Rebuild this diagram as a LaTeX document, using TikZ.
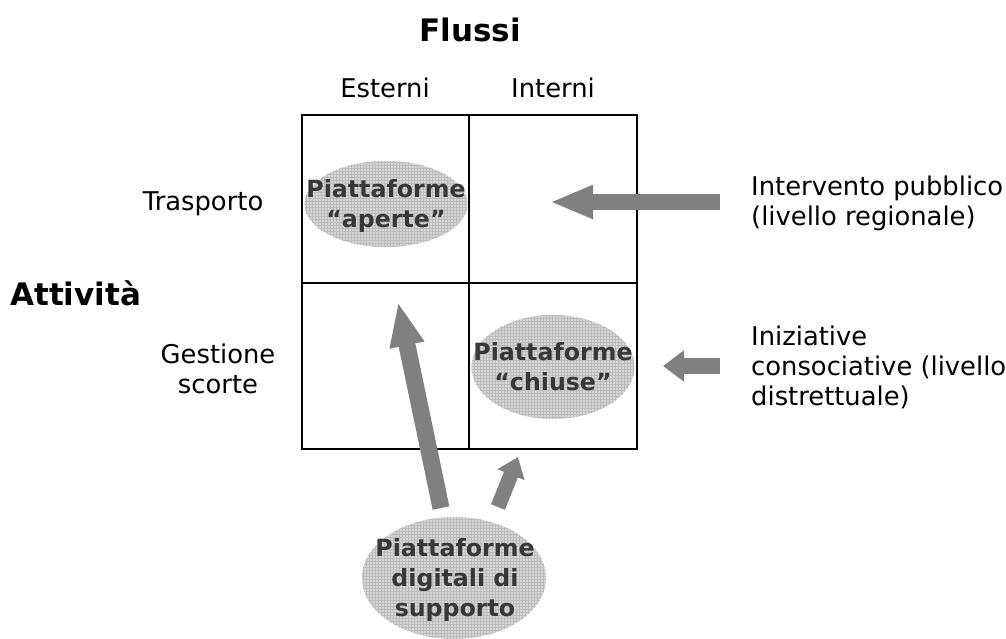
\documentclass[tikz,border=0pt]{standalone}
\usepackage{fontspec}
\setmainfont{DejaVu Sans}
\usetikzlibrary{arrows.meta,shapes.geometric,patterns}
\definecolor{arrowgray}{RGB}{128,128,128}
\definecolor{ellfill}{RGB}{214,214,214}
\definecolor{ellgrid}{RGB}{188,188,188}
\definecolor{elltext}{RGB}{55,55,55}
\begin{document}
\begin{tikzpicture}[x=1pt,y=-1pt,
  lbl/.style={font=\fontsize{25.8}{30}\selectfont, inner sep=0pt},
  ttl/.style={font=\fontsize{31}{36}\selectfont\bfseries, inner sep=0pt},
  plat/.style={inner sep=0pt, text=elltext,
    font=\fontsize{23.7}{30}\selectfont\bfseries, align=center},
  ellbg/.style={fill=ellfill},
  ellpat/.style={pattern=grid, pattern color=ellgrid},
  blk/.style={draw=arrowgray, line cap=butt},
  gridline/.style={line width=1.8pt, black}]
\useasboundingbox (0,0) rectangle (1006,639);
\fill[white] (0,0) rectangle (1006,639);

% grid
\draw[gridline] (302,115) rectangle (637,449);
\draw[gridline] (469,115) -- (469,449);
\draw[gridline] (302,283) -- (637,283);

% titles and labels
\node[ttl] (flussi) at (470,30) {Flussi};
\node[ttl, anchor=west] (attivita) at (10,293) {Attività};
\node[lbl] (esterni) at (385,88) {Esterni};
\node[lbl] (interni) at (553,88) {Interni};
\node[lbl] (trasporto) at (203,204) {Trasporto};
\node[lbl, align=center] (gestione) at (218,369) {Gestione\\scorte};
\node[lbl, align=left, anchor=west] (intervento) at (751,203) {Intervento pubblico\\(livello regionale)};
\node[lbl, align=left, anchor=west] (iniziative) at (751,367) {Iniziative\\consociative (livello\\distrettuale)};

% ellipses
\foreach \cx/\cy/\rx/\ry in {386/204/81.5/43, 553/367/81.5/52, 454/578/92/61}{
  \fill[ellbg] (\cx,\cy) ellipse [x radius=\rx, y radius=\ry];
  \fill[ellpat] (\cx,\cy) ellipse [x radius=\rx, y radius=\ry];
}
\node[plat] (aperte) at (386,206) {Piattaforme\\“aperte”};
\node[plat] (chiuse) at (553,367) {Piattaforme\\“chiuse”};
\node[plat] (supporto) at (455,580) {Piattaforme\\digitali di\\supporto};

% arrow ends
\coordinate (aS) at (720,202);
\coordinate (aE) at (550,202);
\coordinate (bS) at (720,366);
\coordinate (bE) at (663,366);
\coordinate (cS) at (441,508);
\coordinate (cE) at (398,302);
\coordinate (dS) at (498,507);
\coordinate (dE) at (518,457);

\draw[blk, line width=16pt, -{Triangle[length=43pt,width=31pt]}] (aS) -- (aE);
\draw[blk, line width=16pt, -{Triangle[length=21pt,width=30pt]}] (bS) -- (bE);
\draw[blk, line width=17pt, -{Triangle[length=44pt,width=32pt]}] (cS) -- (cE);
\draw[blk, line width=15pt, -{Triangle[length=19pt,width=28pt]}] (dS) -- (dE);
\end{tikzpicture}
\end{document}
